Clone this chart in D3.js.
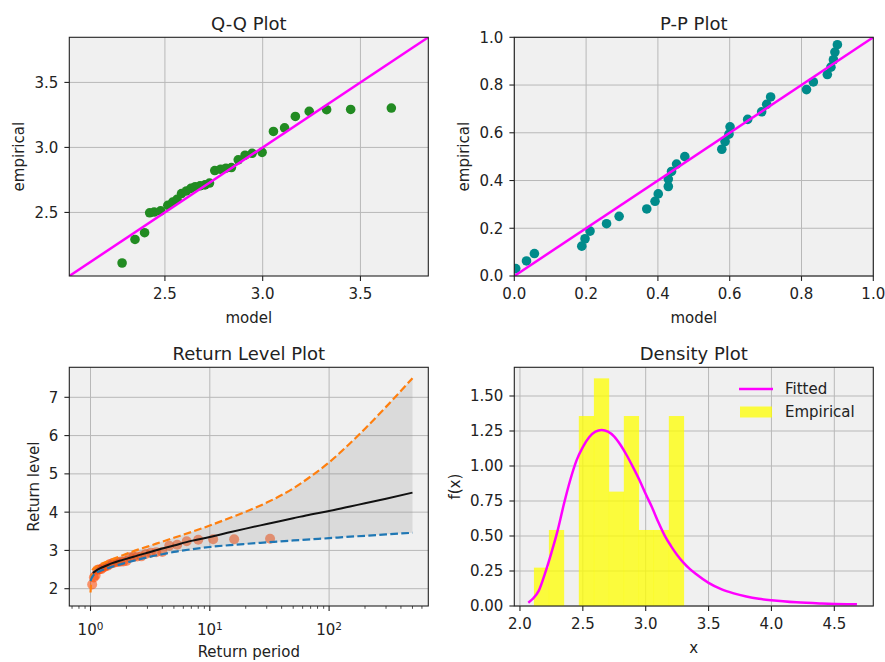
<!DOCTYPE html>
<html><head><meta charset="utf-8">
<script src="https://cdn.jsdelivr.net/npm/d3@7"></script>
<style>
body{margin:0;background:#fff;}
text{font-family:"DejaVu Sans",sans-serif;fill:#222;}
</style></head><body>
<svg id="c" width="885" height="662"></svg>
<script>
// ---------------- data ----------------
const empirical = [2.111,2.292,2.344,2.497,2.503,2.512,2.555,2.580,2.600,2.645,2.665,2.685,2.698,2.705,2.712,2.726,2.822,2.832,2.840,2.845,2.905,2.940,2.955,2.962,3.123,3.150,3.238,3.277,3.290,3.292,3.303];
const qqModel = [2.281,2.347,2.396,2.422,2.445,2.478,2.515,2.540,2.562,2.585,2.610,2.633,2.655,2.680,2.705,2.728,2.755,2.785,2.812,2.840,2.875,2.910,2.946,2.997,3.055,3.112,3.167,3.238,3.327,3.450,3.658];
const ppModel = [0.004,0.034,0.056,0.188,0.197,0.211,0.257,0.292,0.369,0.392,0.401,0.429,0.429,0.438,0.452,0.475,0.578,0.587,0.598,0.601,0.650,0.689,0.703,0.714,0.814,0.833,0.872,0.882,0.889,0.893,0.900];
const ppEmpirical = [0.031,0.063,0.094,0.125,0.156,0.188,0.219,0.250,0.281,0.313,0.344,0.375,0.406,0.438,0.469,0.500,0.531,0.563,0.594,0.625,0.656,0.688,0.719,0.750,0.781,0.813,0.844,0.875,0.906,0.938,0.969];
const returnPeriods = [1.032,1.067,1.103,1.143,1.185,1.231,1.280,1.333,1.391,1.455,1.524,1.600,1.684,1.778,1.882,2.000,2.133,2.286,2.462,2.667,2.909,3.200,3.556,4.000,4.571,5.333,6.400,8.000,10.667,16.000,32.000];
const rlPeriods = [1.0,1.02,1.045,1.1,1.2,1.35,1.5,1.75,2,2.5,3,4,5,7,10,15,20,30,50,70,100,150,200,300,500];
const rlFit   = [null,null,2.41,2.46,2.53,2.60,2.66,2.73,2.78,2.87,2.94,3.05,3.13,3.25,3.35,3.48,3.57,3.69,3.84,3.94,4.03,4.15,4.23,4.35,4.51];
const rlUpper = [1.90,2.30,2.50,2.56,2.63,2.70,2.76,2.84,2.91,3.02,3.10,3.23,3.33,3.48,3.65,3.86,4.01,4.25,4.62,4.93,5.30,5.80,6.18,6.75,7.50];
const rlLower = [2.20,2.27,2.33,2.40,2.46,2.52,2.57,2.63,2.68,2.76,2.82,2.90,2.96,3.03,3.09,3.14,3.17,3.21,3.26,3.29,3.32,3.36,3.38,3.42,3.46];
const histEdges = [2.111,2.230,2.349,2.468,2.588,2.707,2.826,2.945,3.064,3.184,3.303];
const histDensity = [0.274,0.543,0,1.357,1.626,0.817,1.357,0.543,0.543,1.357];
const pdfX = [2.066,2.10,2.15,2.20,2.25,2.30,2.35,2.40,2.45,2.50,2.55,2.60,2.65,2.70,2.75,2.80,2.85,2.90,2.95,3.00,3.05,3.10,3.15,3.20,3.25,3.30,3.35,3.40,3.50,3.60,3.70,3.80,3.90,4.00,4.20,4.40,4.60,4.68];
const pdfY = [0.024,0.05,0.11,0.235,0.38,0.54,0.73,0.90,1.04,1.135,1.205,1.245,1.257,1.245,1.21,1.15,1.075,0.99,0.90,0.80,0.705,0.60,0.505,0.43,0.365,0.31,0.265,0.228,0.165,0.12,0.09,0.068,0.052,0.041,0.026,0.018,0.013,0.012];
const qqTicks = [2.5,3.0,3.5];
const ppTicks = [0,0.2,0.4,0.6,0.8,1.0];
const rlXTicks = [1,10,100];
const rlXMinor = [0.7,0.8,0.9,2,3,4,5,6,7,8,9,20,30,40,50,60,70,80,90,200,300,400,500,600];
const rlYTicks = [2,3,4,5,6,7];
const denXTicks = [2.0,2.5,3.0,3.5,4.0,4.5];
const denYTicks = [0,0.25,0.5,0.75,1.0,1.25,1.5];

// ---------------- drawing ----------------
const svg = d3.select("#c");
const FS = 15;
const colL = [69.3, 428.3], colR = [514.3, 873.3];
const rowT = [37.3, 276], rowB = [367.3, 606];
let clipId = 0;

function panel(o) {
  const [x0, x1] = o.cols, [y0, y1] = o.rows;
  const g = svg.append("g");
  g.append("rect").attr("x", x0).attr("y", y0).attr("width", x1 - x0).attr("height", y1 - y0).attr("fill", "#f0f0f0");
  const grid = g.append("g").attr("stroke", "#b8b8b8").attr("stroke-width", 1);
  o.xTicks.forEach(t => grid.append("line").attr("x1", o.x(t)).attr("x2", o.x(t)).attr("y1", y0).attr("y2", y1));
  o.yTicks.forEach(t => grid.append("line").attr("y1", o.y(t)).attr("y2", o.y(t)).attr("x1", x0).attr("x2", x1));
  const id = "clip" + (clipId++);
  svg.append("clipPath").attr("id", id).append("rect").attr("x", x0).attr("y", y0).attr("width", x1 - x0).attr("height", y1 - y0);
  const content = g.append("g").attr("clip-path", `url(#${id})`);
  o.draw(content);
  g.append("rect").attr("x", x0).attr("y", y0).attr("width", x1 - x0).attr("height", y1 - y0)
    .attr("fill", "none").attr("stroke", "#222").attr("stroke-width", 1.1);
  const tk = g.append("g").attr("stroke", "#222").attr("stroke-width", 1.1);
  o.xTicks.forEach(t => tk.append("line").attr("x1", o.x(t)).attr("x2", o.x(t)).attr("y1", y1).attr("y2", y1 + 4.9));
  o.yTicks.forEach(t => tk.append("line").attr("y1", o.y(t)).attr("y2", o.y(t)).attr("x1", x0).attr("x2", x0 - 4.9));
  if (o.xMinor) o.xMinor.forEach(t => tk.append("line").attr("x1", o.x(t)).attr("x2", o.x(t)).attr("y1", y1).attr("y2", y1 + 2.8).attr("stroke-width", 0.8));
  o.yTicks.forEach(t => g.append("text").attr("x", x0 - 11).attr("y", o.y(t)).attr("dy", "0.36em")
    .attr("text-anchor", "end").attr("font-size", FS).text(o.yFmt(t)));
  o.xTicks.forEach(t => {
    const tx = g.append("text").attr("x", o.x(t)).attr("y", y1 + (o.xTickDy || 23)).attr("text-anchor", "middle").attr("font-size", FS);
    if (o.xPow) {
      tx.append("tspan").text("10");
      tx.append("tspan").attr("dy", "-0.5em").attr("font-size", FS * 0.7).text(String(Math.round(Math.log10(t))));
    } else tx.text(o.xFmt(t));
  });
  const cx = (x0 + x1) / 2, cy = (y0 + y1) / 2;
  g.append("text").attr("x", cx).attr("y", y0 - 7.5).attr("text-anchor", "middle").attr("font-size", 18).text(o.title);
  g.append("text").attr("x", cx).attr("y", y1 + (o.xLabDy || 47)).attr("text-anchor", "middle").attr("font-size", FS).text(o.xlabel);
  g.append("text").attr("transform", `translate(${o.yLabX},${cy}) rotate(-90)`).attr("text-anchor", "middle").attr("font-size", FS).text(o.ylabel);
}

// Q-Q
{
  const x = d3.scaleLinear().domain([2.011, 3.847]).range(colL);
  const y = d3.scaleLinear().domain([2.011, 3.847]).range([rowT[1], rowT[0]]);
  panel({cols: colL, rows: rowT, x, y, xTicks: qqTicks, yTicks: qqTicks, xFmt: d3.format(".1f"), yFmt: d3.format(".1f"),
    title: "Q-Q Plot", xlabel: "model", ylabel: "empirical", yLabX: 24,
    draw: g => {
      g.selectAll("circle").data(empirical).join("circle").attr("cx", (d, i) => x(qqModel[i])).attr("cy", d => y(d))
        .attr("r", 4.8).attr("fill", "#228b22");
      g.append("line").attr("x1", x(2.011)).attr("y1", y(2.011)).attr("x2", x(3.847)).attr("y2", y(3.847))
        .attr("stroke", "#ff00ff").attr("stroke-width", 2.5);
    }});
}
// P-P
{
  const x = d3.scaleLinear().domain([0, 1]).range(colR);
  const y = d3.scaleLinear().domain([0, 1]).range([rowT[1], rowT[0]]);
  panel({cols: colR, rows: rowT, x, y, xTicks: ppTicks, yTicks: ppTicks, xFmt: d3.format(".1f"), yFmt: d3.format(".1f"),
    title: "P-P Plot", xlabel: "model", ylabel: "empirical", yLabX: 469,
    draw: g => {
      g.selectAll("circle").data(ppEmpirical).join("circle").attr("cx", (d, i) => x(ppModel[i])).attr("cy", d => y(d))
        .attr("r", 4.8).attr("fill", "#008b8b");
      g.append("line").attr("x1", x(0)).attr("y1", y(0)).attr("x2", x(1)).attr("y2", y(1))
        .attr("stroke", "#ff00ff").attr("stroke-width", 2.5);
    }});
}
// Return level
{
  const x = d3.scaleLog().domain([0.664, 678.5]).range(colL);
  const y = d3.scaleLinear().domain([1.548, 7.784]).range([rowB[1], rowB[0]]);
  panel({cols: colL, rows: rowB, x, y, xTicks: rlXTicks, yTicks: rlYTicks, xMinor: rlXMinor, xPow: true, xTickDy: 29, xLabDy: 51,
    yFmt: d3.format("d"), title: "Return Level Plot", xlabel: "Return period", ylabel: "Return level", yLabX: 39,
    draw: g => {
      g.selectAll("circle").data(empirical).join("circle").attr("cx", (d, i) => x(returnPeriods[i])).attr("cy", d => y(d))
        .attr("r", 5).attr("fill", "#ff4500").attr("fill-opacity", 0.55);
      const idx = d3.range(rlPeriods.length);
      g.append("path").datum(idx).attr("d", d3.area().x(i => x(rlPeriods[i])).y0(i => y(rlLower[i])).y1(i => y(rlUpper[i])).curve(d3.curveMonotoneX))
        .attr("fill", "#808080").attr("fill-opacity", 0.2);
      g.append("path").datum(idx).attr("d", d3.line().defined(i => rlFit[i] != null).x(i => x(rlPeriods[i])).y(i => y(rlFit[i])).curve(d3.curveMonotoneX))
        .attr("fill", "none").attr("stroke", "#111").attr("stroke-width", 2);
      g.append("path").datum(idx).attr("d", d3.line().x(i => x(rlPeriods[i])).y(i => y(rlUpper[i])).curve(d3.curveMonotoneX))
        .attr("fill", "none").attr("stroke", "#ff7f0e").attr("stroke-width", 2.2).attr("stroke-dasharray", "7.7,3.3");
      g.append("path").datum(idx).attr("d", d3.line().x(i => x(rlPeriods[i])).y(i => y(rlLower[i])).curve(d3.curveMonotoneX))
        .attr("fill", "none").attr("stroke", "#1f77b4").attr("stroke-width", 2.2).attr("stroke-dasharray", "7.7,3.3");
    }});
}
// Density
{
  const x = d3.scaleLinear().domain([1.955, 4.810]).range(colR);
  const y = d3.scaleLinear().domain([0, 1.705]).range([rowB[1], rowB[0]]);
  panel({cols: colR, rows: rowB, x, y, xTicks: denXTicks, yTicks: denYTicks, xFmt: d3.format(".1f"), yFmt: d3.format(".2f"),
    title: "Density Plot", xlabel: "x", ylabel: "f(x)", yLabX: 460,
    draw: g => {
      g.selectAll("rect.bar").data(histDensity).join("rect").attr("class", "bar")
        .attr("x", (d, i) => x(histEdges[i])).attr("width", (d, i) => x(histEdges[i + 1]) - x(histEdges[i]) + 0.3)
        .attr("y", d => y(d)).attr("height", d => y(0) - y(d)).attr("fill", "#ffff00").attr("fill-opacity", 0.75);
      g.append("path").datum(pdfX).attr("d", d3.line().x(d => x(d)).y((d, i) => y(pdfY[i])).curve(d3.curveMonotoneX))
        .attr("fill", "none").attr("stroke", "#ff00ff").attr("stroke-width", 2.5);
      g.append("line").attr("x1", 739).attr("x2", 773).attr("y1", 389).attr("y2", 389).attr("stroke", "#ff00ff").attr("stroke-width", 2.5);
      g.append("text").attr("x", 785).attr("y", 389).attr("dy", "0.36em").attr("font-size", FS).text("Fitted");
      g.append("rect").attr("x", 740).attr("y", 406.5).attr("width", 32).attr("height", 11).attr("fill", "#ffff00").attr("fill-opacity", 0.75);
      g.append("text").attr("x", 785).attr("y", 412).attr("dy", "0.36em").attr("font-size", FS).text("Empirical");
    }});
}
</script></body></html>
